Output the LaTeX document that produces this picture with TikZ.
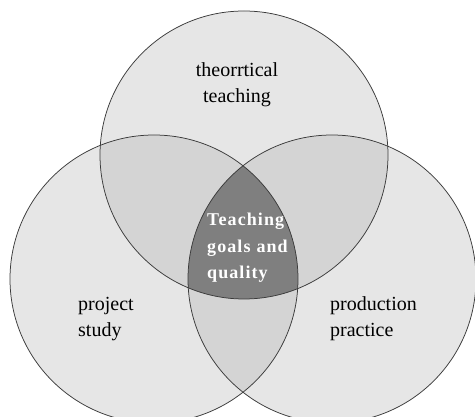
\documentclass[tikz,border=0pt]{standalone}
\usepackage{fontspec}
\setmainfont{Liberation Serif}
\usetikzlibrary{positioning}

\definecolor{setfill}{HTML}{E6E6E6}
\definecolor{pairfill}{HTML}{D4D4D4}
\definecolor{corefill}{HTML}{7F7F7F}
\definecolor{rimcolor}{HTML}{3A3A3A}

\tikzset{
  setcircle/.style={circle, minimum size=288pt, inner sep=0pt, fill=setfill},
  rim/.style={draw=rimcolor, line width=0.75pt},
  setlabel/.style={font=\fontsize{20}{26}\selectfont, inner sep=0pt},
  corelabel/.style={font=\fontsize{18}{26.5}\selectfont\bfseries\addfontfeature{LetterSpace=6},
                    text=white, align=left, inner sep=0pt}
}

\begin{document}
\begin{tikzpicture}[x=1pt, y=1pt]
            \useasboundingbox[fill=white] (0,0) rectangle (475,417);
            % the three sets
            \node[setcircle] (theory) at (244,262) {};
            \node[setcircle] (project) at (154,138) {};
            \node[setcircle] (production) at (332,138) {};
            % pairwise overlaps
            \begin{scope}
                \clip (theory.center) circle (144pt);
                \fill[pairfill] (project.center) circle (144pt);
                \fill[pairfill] (production.center) circle (144pt);
            \end{scope}
            \begin{scope}
                \clip (project.center) circle (144pt);
                \fill[pairfill] (production.center) circle (144pt);
            \end{scope}
            % common part
            \begin{scope}
                \clip (theory.center) circle (144pt);
                \clip (project.center) circle (144pt);
                \fill[corefill] (production.center) circle (144pt);
            \end{scope}
            \foreach \s in {theory, project, production}
                \draw[rim] (\s.center) circle (144pt);
            % labels
            \node[setlabel, align=center] (theorylabel) at (237,332) {theorrtical\\teaching};
            \node[setlabel, align=left, anchor=west] (projectlabel) at (78,98) {project\\study};
            \node[setlabel, align=left, anchor=west] (productionlabel) at (330,98) {production\\practice};
            \node[corelabel, anchor=west] (corelabel) at (207,169) {Teaching\\goals\hspace{6pt}and\\quality};
        \end{tikzpicture}
\end{document}
